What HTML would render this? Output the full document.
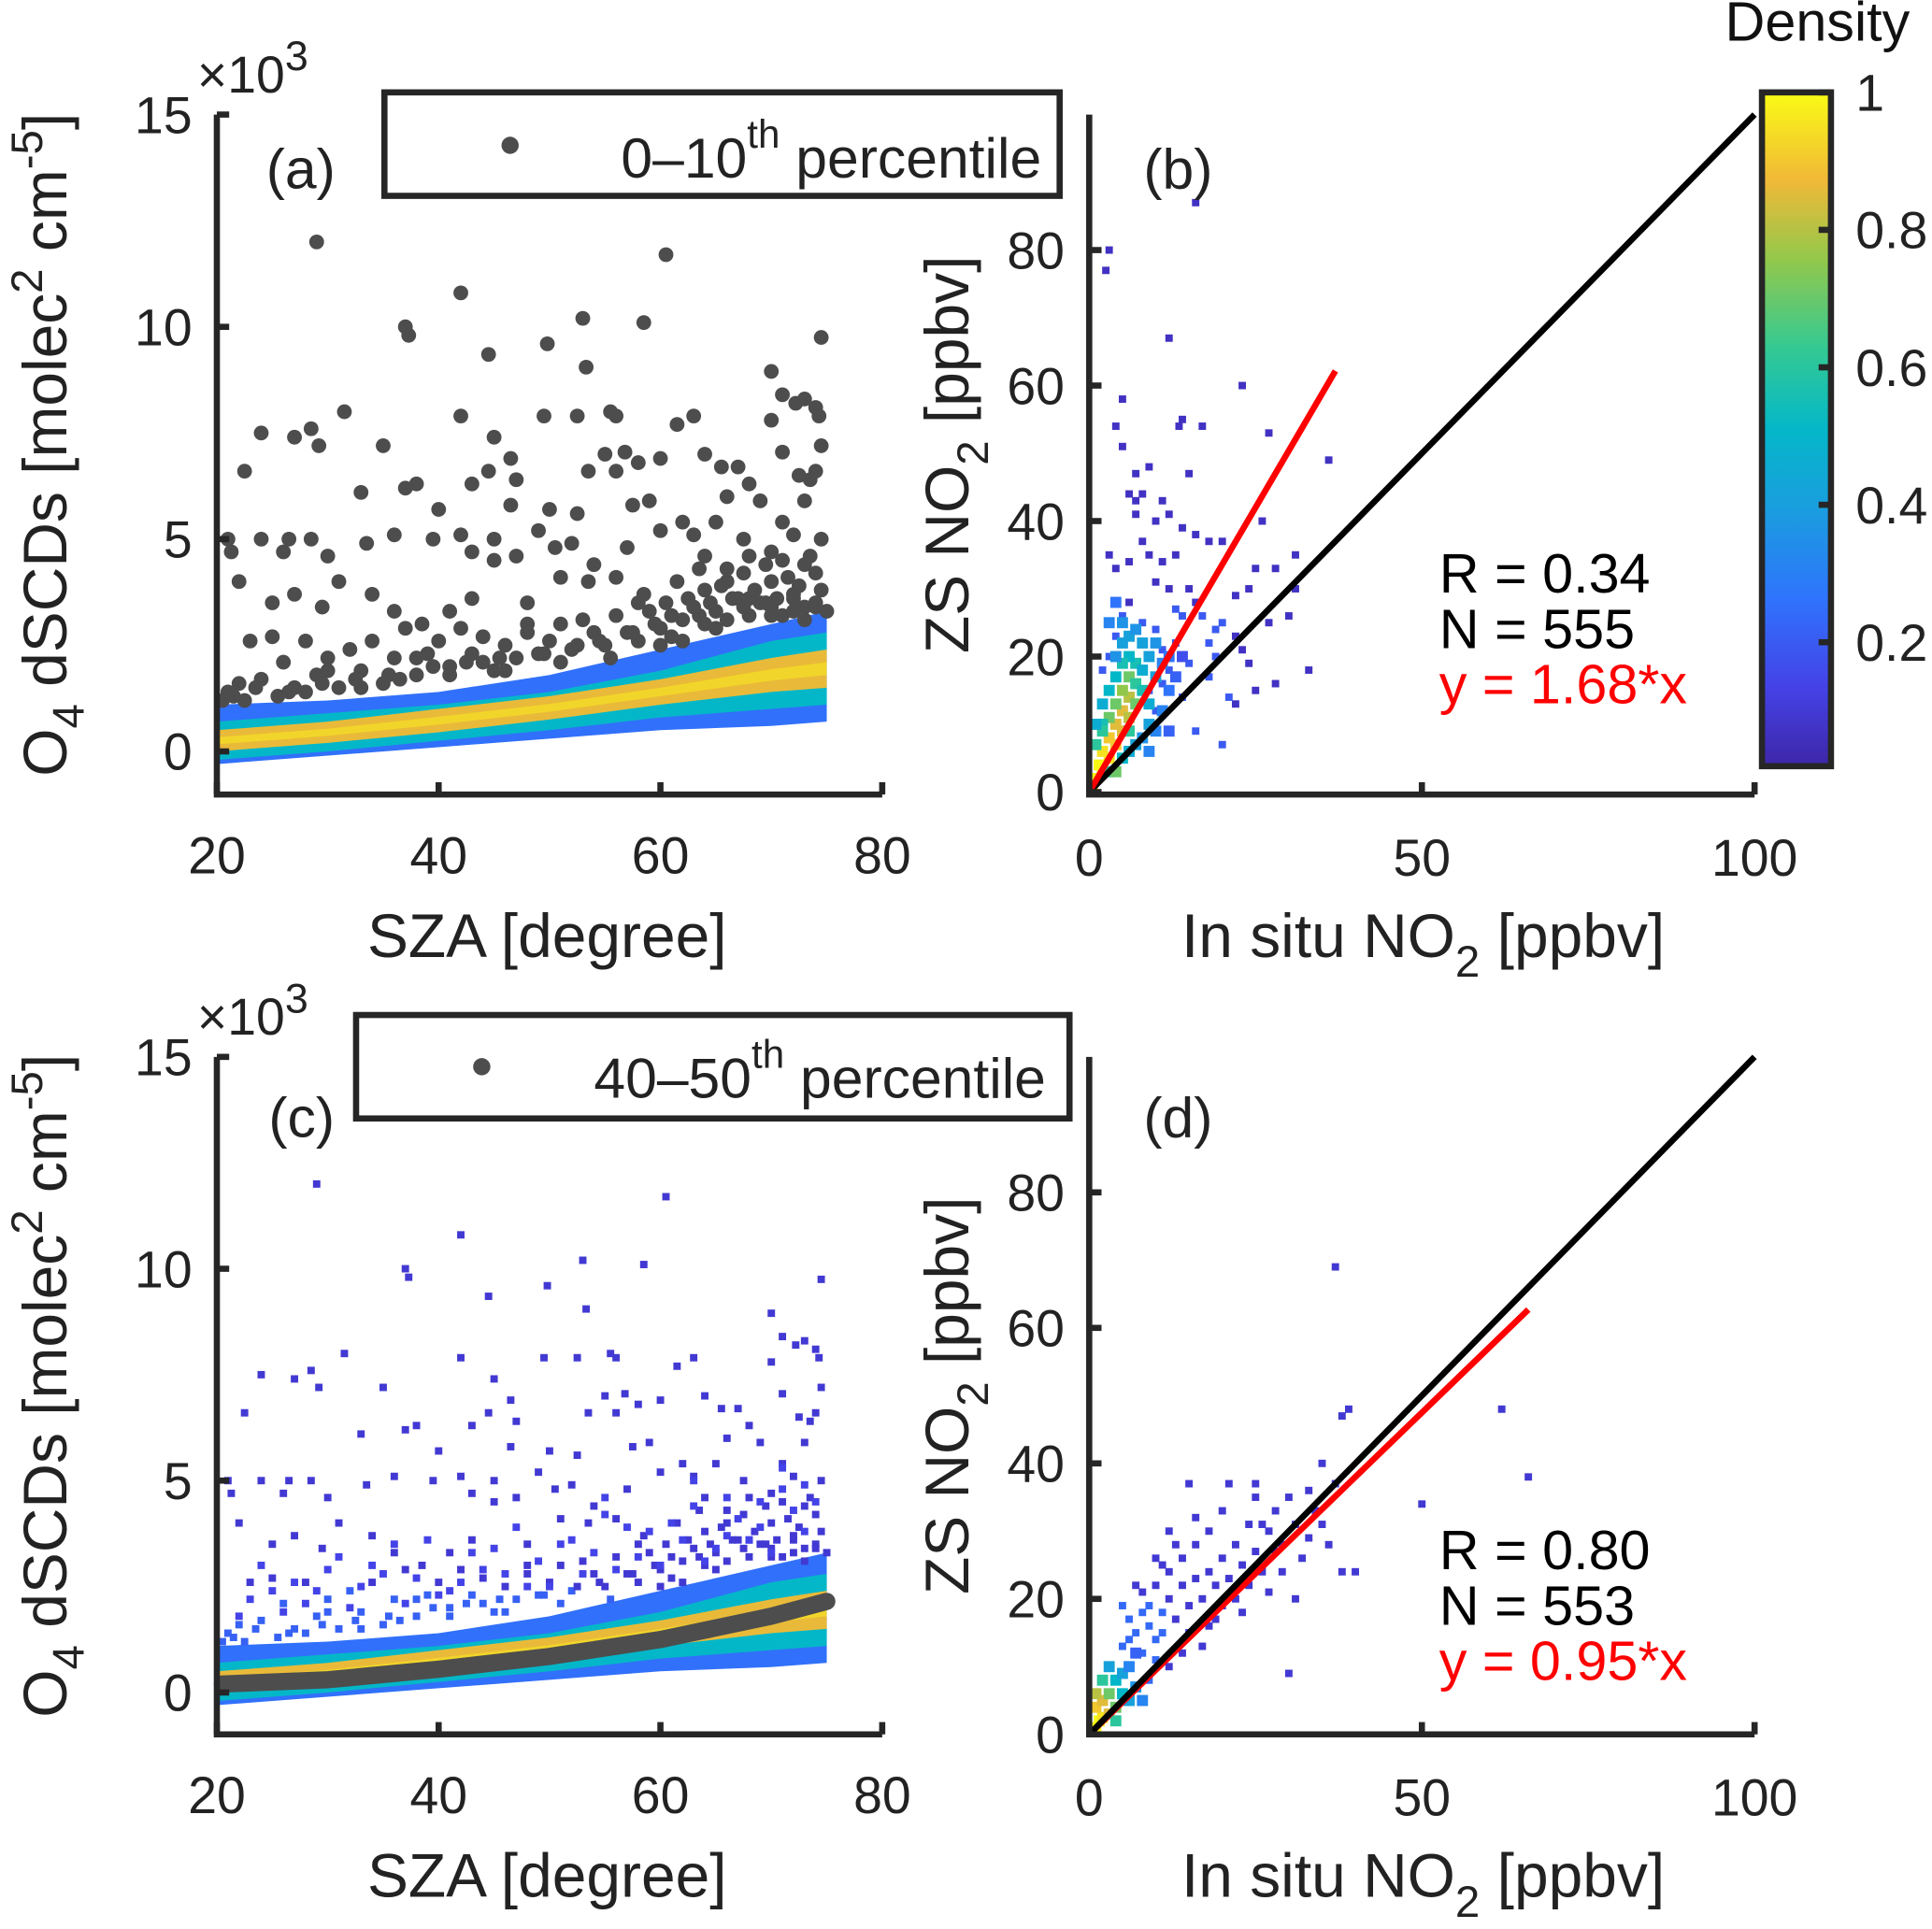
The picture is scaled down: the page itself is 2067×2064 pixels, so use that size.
<!DOCTYPE html>
<html><head><meta charset="utf-8"><style>
html,body{margin:0;padding:0;background:#fff;}
svg{display:block;font-family:"Liberation Sans",Arial,sans-serif;}
</style></head><body>
<svg id="fig" width="2067" height="2064" viewBox="0 0 1568 1566" preserveAspectRatio="none" xmlns="http://www.w3.org/2000/svg">
<defs>
<linearGradient id="parula" x1="0" y1="1" x2="0" y2="0">
<stop offset="0" stop-color="#3e26a8"/><stop offset="0.12" stop-color="#4443e8"/><stop offset="0.25" stop-color="#2f74fc"/><stop offset="0.38" stop-color="#1a9ddf"/><stop offset="0.5" stop-color="#04b7c8"/><stop offset="0.62" stop-color="#34c993"/><stop offset="0.75" stop-color="#91c84c"/><stop offset="0.87" stop-color="#f1b937"/><stop offset="1" stop-color="#f9fb15"/>
</linearGradient>
</defs>
<g id="layer"></g>
</svg>
<script>
// ---- data ----
const outX=[29,60.5,42,37,37.3,53,58.5,49.8,44.5,53.3,74.5,70,71,73,74,74.3,72.2,31.5,42,49.5,52.5,55.5,56,63,61.5,24,27,28.5,29.2,35,45,55,56.8,60,64,67,70,71,74.5,22.5,38,43,44.5,46.5,47,53.5,56,58,65.5,68,72.5,73.5,74,33,37,40,46.5,50,52.5,57.5,59,62,66,69,71,73,21,21.3,24,26,26.5,28.5,30,33.5,36,39.5,42,43,45,47,49,50.5,52,54,57,60,63,65,67.5,70,72,74.5,22,25,27,29.5,31,34,36,38.5,41,43,45,48,51,53.5,56,58.5,61,64,66,68,70,72,74,21,22,23,24,25,26,27,28,29,30,31,32,33,34,35,36,37,38,39,40,41,42,43,44,45,46,47,48,49,50,51,52,53,54,55,56,57,58,59,60,61,62,63,64,65,66,67,68,69,70,71,72,73,74,75,20.5,22.5,25.5,28,33,36.5,41,46,51,55.5,60,65,70,73,62,58,48,44,38,30,60.5,61.5,62.5,63.5,64.5,65.5,66.5,67.5,68.5,69.5,70.5,71.5,72.5,73.5,74.5,73,71,68,66,64,21.5,23.5,26.5,29.5,32.5,35.5,39.5,42.5,45.5,49.5,52.5,54.5,57.5,59.5,63.5,67.5,69.5,72,74];
const outY=[12,11.7,10.8,10,9.8,10.2,10.1,9.6,9.35,9.05,9.75,8.95,8.4,8.3,8.1,7.9,8.2,8,7.9,7.9,7.9,8,7.9,7.9,7.7,7.5,7.4,7.6,7.2,7.2,7.4,7,7.05,6.9,7,6.7,7.8,7.05,7.2,6.6,6.3,6.3,6.6,6.9,6.4,6.6,6.6,6.8,6.7,6.3,6.5,6.4,6.6,6.1,6.2,5.7,5.8,5.7,5.6,5.8,5.9,5.4,6,5.9,5.4,5.9,5,4.7,5,4.7,5,5,4.6,4.9,5.1,5,5.1,4.7,5,4.6,5.2,4.8,4.9,4.4,4.8,5.2,5.1,5.4,5,4.7,5.1,5,4,3.5,3.7,3.4,4,3.7,3.3,3,3.3,3.6,4.5,3.5,4.1,4,4.1,3.7,3.2,3.8,4,3.6,4,3.7,4.2,1.4,1.6,2.6,1.7,2.7,2.1,1.5,2.6,1.8,2.2,1.5,2.4,1.9,2.6,1.6,2.2,2.9,1.8,2.3,2.6,2,2.9,2.3,2.7,1.9,2.5,2.2,2.8,2.3,2.6,3,2.4,3.1,2.8,2.5,3.2,2.8,2.6,3.3,2.9,2.7,3.1,3.4,3,3.3,3.1,3.6,3.2,3.5,3.4,3.2,3.6,3.4,3.5,3.3,1.2,1.2,1.3,1.4,1.5,1.7,1.8,1.9,2.1,2.2,2.5,2.9,3.2,3.1,2.6,3.5,3.0,2.1,2.2,1.9,3.5,4,3.6,4.3,3.5,3.9,3.6,4.2,3.8,4.4,3.6,4.1,3.9,4.6,3.8,4.4,4.5,4.6,4.3,4.6,1.3,1.5,1.4,1.6,1.7,1.8,2.0,2.1,2.2,2.3,2.5,2.6,2.8,3.0,3.2,3.4,3.5,3.3,3.4];
// extra sparse squares in panel (c)
const cExX=[24,27,31,35,39,43,47,51,55,59,63,67,71,74,23,28,33,38,44,49,54,58,62,66,69,72,25,30,36,41,46,52,57,61,65,68,73,26,32,40,50,56,64,70,22,29,34,37,42,45,48,53,60,66,71,73,55,63,69];
const cExY=[3,2.6,3.2,2.8,3.6,3.3,3.9,3.5,4.2,3.8,4.4,4.1,4.8,4.5,2.2,2.1,2.5,2.7,2.9,3.1,3.3,3.2,3.6,3.7,3.9,4.3,2.4,2.9,3.5,2.4,2.8,3.6,3.9,4.0,3.4,3.6,3.8,1.9,2.0,2.3,2.5,2.9,3.1,3.3,1.8,2.4,3.0,2.1,2.6,3.4,2.5,2.8,3.0,4.6,5.3,4.9,4.6,5.0,4.5];
// density bands (x10^3) vs SZA
const bandSza=[20,30,40,50,60,70,75];
const bandOuterHi=[1.1,1.2,1.4,1.8,2.4,3.0,3.3];
const bandOuterLo=[-0.3,-0.1,0.1,0.3,0.5,0.6,0.7];
const bandMidHi=[0.7,0.9,1.1,1.4,1.9,2.6,2.8];
const bandMidLo=[-0.2,0.0,0.25,0.5,0.8,1.0,1.1];
const bandCoreHi=[0.5,0.7,1.0,1.3,1.7,2.2,2.4];
const bandCoreLo=[0.0,0.2,0.45,0.75,1.1,1.4,1.5];
const medSza=[20.5,30,40,50,60,70,75];
const medVal=[0.2,0.3,0.55,0.85,1.25,1.8,2.15];
// panel b
const bSparseX=[3,2.5,16,12,23,5,4,14,13.5,17,27,5,7,9,15,36,6,7,8,11,7,10,12,14,16,18,20,26,31,25,28,31,30,27,24,22,33,28,25,22,21,16,20,18,15,19,17,14,12,10,13,9,6,3,4,8,11,15,18,23,24,19,13,12,10,14,9,11,8,6,5,4,3,2,11,10,13,16,20,22];
const bSparseY=[80,77,87,67,60,58,54,55,54,54,53,51,47,48,47,49,44,43,44,43,41,40,41,39,38,37,37,40,35,33,33,30,26,25,30,29,18,16,15,13,14,9,7,17,19,24,26,26,30,31,35,35,34,35,33,37,34,30,22,21,19,20,22,18,12,14,15,16,25,28,26,23,20,18,21,24,27,28,25,23];
const bDenseX=[1,1.5,2,2,3,3,4,4,5,5,6,5,6,7,6,4,3,7,8,7,6,5,4,3,2,2,9,8,9,10,8,6,5,4,3,4,5,7,10,11,12,12,9,8,7,6,5,10,11,13,14,2,3,1,1,0.5,4,6,9,12];
const bDenseY=[2,4,3,6,5,8,7,10,9,12,14,15,11,13,17,13,11,16,15,19,20,19,17,15,10,13,13,18,20,17,22,23,22,20,25,28,25,24,22,19,20,15,10,8,7,6,5,9,12,17,20,9,3,7,10,1,3,9,6,9];
const bDenseD=[1,1,1,0.95,0.95,0.9,0.9,0.85,0.85,0.85,0.8,0.75,0.8,0.7,0.7,0.7,0.7,0.6,0.55,0.55,0.5,0.55,0.5,0.5,0.55,0.45,0.45,0.45,0.4,0.4,0.4,0.4,0.4,0.35,0.3,0.25,0.35,0.35,0.35,0.3,0.25,0.25,0.4,0.35,0.4,0.45,0.5,0.3,0.3,0.2,0.15,0.6,0.6,0.6,0.45,1,0.7,0.6,0.3,0.2];
// panel d
const dDenseX=[1,1.5,2,1,2,3,3,4,2,4,5,5,6,3,6,7,1,4,8,7];
const dDenseY=[1,2,2.5,4,5,3,6,4,8,8,6,9,5,10,10,7,6,2,5,12];
const dDenseD=[1,1,0.95,0.9,0.85,0.85,0.7,0.7,0.6,0.5,0.5,0.4,0.4,0.4,0.3,0.35,0.8,0.6,0.3,0.2];
const dSparseX=[5,6,7,8,9,10,9,10,11,12,13,12,14,15,14,16,17,16,18,19,18,20,21,20,22,23,22,24,25,26,25,27,28,29,30,31,32,33,34,35,36,38,37,38,39,40,37,62,66,50,30,25,21,15,8,10,11,13,15,17,19,23,27,29,31,8,6,9,12,5,7,11,14,18,20,24,26,28,33,35,12,10,16];
const dSparseY=[13,14,15,12,16,14,19,22,18,20,17,24,22,19,26,23,20,28,24,22,30,26,23,33,28,25,20,31,27,24,35,30,33,28,35,31,26,29,33,31,28,24,37,47,48,24,69,48,38,34,9,37,37,37,18,11,25,28,15,13,17,18,21,24,20,21,17,8,10,19,22,15,12,16,19,22,31,27,36,40,30,26,32];
const bSlope=1.68, bFitEnd=37;
const dSlope=0.95, dFitEnd=66;

// ---- helpers ----
const NS='http://www.w3.org/2000/svg';
const layer=document.getElementById('layer');
function mk(tag,attrs,parent){const e=document.createElementNS(NS,tag);for(const k in attrs)e.setAttribute(k,attrs[k]);(parent||layer).appendChild(e);return e;}
function parula(t){
  const st=[[0,[62,38,168]],[0.12,[68,67,232]],[0.25,[47,116,252]],[0.38,[26,157,223]],[0.5,[4,183,200]],[0.62,[52,201,147]],[0.75,[145,200,76]],[0.87,[241,185,55]],[1,[249,251,21]]];
  t=Math.max(0,Math.min(1,t));
  for(let i=1;i<st.length;i++){if(t<=st[i][0]){const a=st[i-1],b=st[i];const f=(t-a[0])/(b[0]-a[0]);return 'rgb('+a[1].map((v,j)=>Math.round(v+(b[1][j]-v)*f)).join(',')+')';}}
  return 'rgb(249,251,21)';
}
function lin(d0,d1,r0,r1){return v=>r0+(v-d0)*(r1-r0)/(d1-d0);}

// ---- axes definitions ----
const A={x:lin(20,80,176,716),y:lin(0,15,610,93),ymin:-1,top:93,bot:645};
const C={x:lin(20,80,176,716),y:lin(0,15,1374,858),ymin:-1,top:858,bot:1408};
const B={x:lin(0,100,884,1424),y:lin(0,100,643,93)};
const D={x:lin(0,100,884,1424),y:lin(0,100,1408,858)};

function band(ax,g){
  const layers=[[bandOuterLo,bandOuterHi,parula(0.24)],[bandMidLo,bandMidHi,parula(0.5)],[bandCoreLo,bandCoreHi,parula(0.86)]];
  layers.forEach((L,li)=>{
    let pts=bandSza.map((s,i)=>ax.x(s)+','+ax.y(L[1][i]));
    pts=pts.concat(bandSza.slice().reverse().map((s,i)=>{const k=bandSza.length-1-i;return ax.x(s)+','+ax.y(L[0][k]);}));
    const p=mk('polygon',{points:pts.join(' '),fill:L[2]},g);
    
    
  });
  let pts=bandSza.map((s,i)=>ax.x(s)+','+ax.y((bandCoreHi[i]*2+bandCoreLo[i])/3));
  pts=pts.concat(bandSza.slice().reverse().map((s,i)=>{const k=bandSza.length-1-i;return ax.x(s)+','+ax.y((bandCoreHi[k]+bandCoreLo[k]*2)/3);}));
  const p=mk('polygon',{points:pts.join(' '),fill:'#f2d52a'},g);
  
  
}
function square(ax,x,y,col,g,s){const r=mk('rect',{x:ax.x(x)-s/2,y:ax.y(y)-s/2,width:s,height:s,fill:col},g);return r;}
function text(x,y,str,attrs,parent){const t=mk('text',Object.assign({x:x,y:y,'font-size':42,fill:'#222'},attrs||{}),parent);t.innerHTML=str;return t;}
function leftAxes(ax,g,name){
  const l=mk('path',{d:`M${ax.x(20)},${ax.top} V${ax.bot} H${ax.x(80)}`,stroke:'#262626','stroke-width':5,fill:'none'},g);
  
  [20,40,60,80].forEach(v=>{
    mk('line',{x1:ax.x(v),x2:ax.x(v),y1:ax.bot,y2:ax.bot-10,stroke:'#262626','stroke-width':5},g);
    const t=text(ax.x(v),ax.bot+64,String(v),{'text-anchor':'middle'},g);
    
  });
  [0,5,10,15].forEach(v=>{
    mk('line',{x1:ax.x(20),x2:ax.x(20)+10,y1:ax.y(v),y2:ax.y(v),stroke:'#262626','stroke-width':5},g);
    const t=text(ax.x(20)-20,ax.y(v)+15,String(v),{'text-anchor':'end'},g);
    
  });
  const xl=text(444,ax.bot+132,'SZA [degree]',{'text-anchor':'middle','font-size':50},g);
  
  const cy=(ax.top+ax.bot)/2;
  const yl=text(0,0,'O<tspan dy="14" font-size="36">4</tspan><tspan dy="-14"> dSCDs [molec</tspan><tspan dy="-20" font-size="36">2</tspan><tspan dy="20"> cm</tspan><tspan dy="-20" font-size="36">-5</tspan><tspan dy="20">]</tspan>',{'text-anchor':'middle','font-size':50,transform:`translate(54,${cy-8}) rotate(-90)`},g);
  
  const ex=text(160,ax.top-18,'×10<tspan dy="-18" font-size="34">3</tspan>',{'font-size':42},g);
  
}
function rightAxes(ax,g,name,ybot){
  const l=mk('path',{d:`M${ax.x(0)},${ax.y(100)} V${ybot} H${ax.x(100)}`,stroke:'#262626','stroke-width':5,fill:'none'},g);
  
  [0,50,100].forEach(v=>{
    mk('line',{x1:ax.x(v),x2:ax.x(v),y1:ybot,y2:ybot-10,stroke:'#262626','stroke-width':5},g);
    const t=text(ax.x(v),ybot+66,String(v),{'text-anchor':'middle'},g);
    
  });
  [0,20,40,60,80].forEach(v=>{
    mk('line',{x1:ax.x(0),x2:ax.x(0)+10,y1:ax.y(v),y2:ax.y(v),stroke:'#262626','stroke-width':5},g);
    const t=text(ax.x(0)-20,ax.y(v)+15,String(v),{'text-anchor':'end'},g);
    
  });
  const xl=text(1155,ybot+132,'In situ NO<tspan dy="16" font-size="36">2</tspan><tspan dy="-16"> [ppbv]</tspan>',{'text-anchor':'middle','font-size':50},g);
  
  const cy=(ax.y(100)+ybot)/2;
  const yl=text(0,0,'ZS NO<tspan dy="16" font-size="36">2</tspan><tspan dy="-16"> [ppbv]</tspan>',{'text-anchor':'middle','font-size':50,transform:`translate(786,${cy}) rotate(-90)`},g);
  
}

// ---- panel a ----
const ga=mk('g',{});
band(A,ga);
outX.forEach((x,i)=>{const c=mk('circle',{cx:A.x(x),cy:A.y(outY[i]),r:6,fill:'#4d4d4d'},ga);});
leftAxes(A,ga,'panel-a');
text(216,153,'(a)',{'font-size':46},ga);
const lga=mk('g',{});
mk('rect',{x:312,y:75,width:548,height:84,fill:'#fff',stroke:'#262626','stroke-width':5},lga);
mk('circle',{cx:414,cy:118,r:7,fill:'#4d4d4d'},lga);
text(504,144,'0–10<tspan dy="-24" font-size="32">th</tspan><tspan dy="24"> percentile</tspan>',{'font-size':46},lga);

// ---- panel c ----
const gc=mk('g',{});
band(C,gc);
outX.forEach((x,i)=>{const r=square(C,x,outY[i],parula(outY[i]<2.5?0.2:0.08),gc,6);});
cExX.forEach((x,i)=>{const r=square(C,x,cExY[i],parula(0.12),gc,6);});
const medPath=mk('polyline',{points:medSza.map((s,i)=>C.x(s)+','+C.y(medVal[i])).join(' '),stroke:'#4d4d4d','stroke-width':14,fill:'none','stroke-linecap':'round'},gc);

leftAxes(C,gc,'panel-c');
text(218,923,'(c)',{'font-size':46},gc);
const lgc=mk('g',{});
mk('rect',{x:289,y:824,width:579,height:84,fill:'#fff',stroke:'#262626','stroke-width':5},lgc);
mk('circle',{cx:391,cy:866,r:7,fill:'#4d4d4d'},lgc);
text(482,891,'40–50<tspan dy="-24" font-size="32">th</tspan><tspan dy="24"> percentile</tspan>',{'font-size':46},lgc);

// ---- panel b ----
const gb=mk('g',{});
bSparseX.forEach((x,i)=>{const r=square(B,x,bSparseY[i],parula(bSparseY[i]<28&&x<22?0.18:0.05),gb,6);});
bDenseX.forEach((x,i)=>{const r=square(B,x,bDenseY[i],parula(bDenseD[i]),gb,9);});
const oneB=mk('line',{x1:B.x(0),y1:B.y(0),x2:B.x(100),y2:B.y(100),stroke:'#000','stroke-width':5},gb);

const fitB=mk('line',{x1:B.x(0),y1:B.y(0),x2:B.x(bFitEnd),y2:B.y(bFitEnd*bSlope),stroke:'#ff0000','stroke-width':5},gb);

rightAxes(B,gb,'panel-b',645);
text(928,153,'(b)',{'font-size':46},gb);
text(1168,481,'R = 0.34',{'font-size':45,fill:'#000'},gb);
text(1168,526,'N = 555',{'font-size':45,fill:'#000'},gb);
text(1168,571,'y = '+bSlope.toFixed(2)+'*x',{'font-size':45,fill:'#ff0000'},gb);

// ---- panel d ----
const gd=mk('g',{});
dSparseX.forEach((x,i)=>{const r=square(D,x,dSparseY[i],parula(x<12&&dSparseY[i]<20?0.22:0.08),gd,6);});
dDenseX.forEach((x,i)=>{const r=square(D,x,dDenseY[i],parula(dDenseD[i]),gd,9);});
const fitD=mk('line',{x1:D.x(0),y1:D.y(0),x2:D.x(dFitEnd),y2:D.y(dFitEnd*dSlope),stroke:'#ff0000','stroke-width':5},gd);

const oneD=mk('line',{x1:D.x(0),y1:D.y(0),x2:D.x(100),y2:D.y(100),stroke:'#000','stroke-width':5},gd);

rightAxes(D,gd,'panel-d',1408);
text(928,923,'(d)',{'font-size':46},gd);
text(1168,1274,'R = 0.80',{'font-size':45,fill:'#000'},gd);
text(1168,1319,'N = 553',{'font-size':45,fill:'#000'},gd);
text(1168,1364,'y = '+dSlope.toFixed(2)+'*x',{'font-size':45,fill:'#ff0000'},gd);

// ---- colorbar ----
const gcb=mk('g',{});
mk('rect',{x:1430,y:75,width:56,height:547,fill:'url(#parula)',stroke:'#262626','stroke-width':5},gcb);
const cbY=lin(0,1,633,75);
[0.2,0.4,0.6,0.8,1].forEach(v=>{
  mk('line',{x1:1476,x2:1486,y1:cbY(v),y2:cbY(v),stroke:'#262626','stroke-width':5},gcb);
  const t=text(1506,cbY(v)+15,v===1?'1':String(v),{},gcb);
  
});
text(1475,33,'Density',{'text-anchor':'middle','font-size':45,fill:'#111'},gcb);
</script>
</body></html>
